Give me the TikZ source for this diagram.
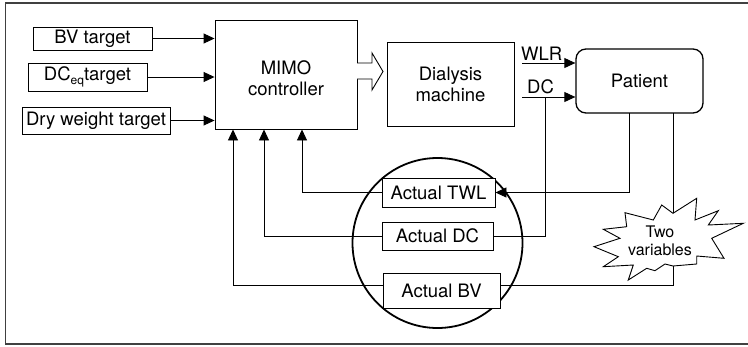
\documentclass[tikz,border=0pt]{standalone}
\usepackage{fontspec}
\setmainfont{TeX Gyre Heros}
\usetikzlibrary{arrows.meta,calc}
\begin{document}
\begin{tikzpicture}[x=1pt,y=-1pt,
  box/.style={draw,line width=0.9pt,inner sep=0pt,align=center,font=\fontsize{18.5}{21}\selectfont},
  conn/.style={line width=0.9pt},
  arr/.style={line width=0.9pt,-{Triangle[length=11pt,width=10pt]}},
  lbl/.style={inner sep=0pt,font=\fontsize{18.5}{21}\selectfont}]
\useasboundingbox (0,0) rectangle (748,346);
\draw[line width=1.8pt,black!75] (760,3) -- (5.5,3) -- (5.5,344) -- (760,344);
% input boxes
\node[box,minimum width=119pt,minimum height=23pt] (bv) at (92.5,38.5) {BV target};
\node[box,minimum width=119pt,minimum height=28pt] (dc) at (87.5,77) {DC\raisebox{-0.35ex}{\fontsize{12}{12}\selectfont eq}target};
\node[box,minimum width=148pt,minimum height=27pt] (dry) at (96,120.5) {Dry weight target};
\node[box,minimum width=142pt,minimum height=109pt] (mimo) at (286,74.5) {};
\node[lbl,align=center] at ([yshift=-4pt]mimo.center) {MIMO\\controller};
\node[box,minimum width=127pt,minimum height=84pt] (dial) at (450.5,84) {Dialysis\\machine};
\node[box,rounded corners=10pt,line width=1.3pt,minimum width=127pt,minimum height=64pt] (pat) at (639.5,81) {Patient};
% measurement circle
\node[draw,circle,line width=1.8pt,minimum size=170pt,inner sep=0pt] (circ) at (437.5,243) {};
\node[box,fill=white,minimum width=113pt,minimum height=29pt] (twl) at (438.5,192.5) {Actual TWL};
\node[box,fill=white,minimum width=111pt,minimum height=28pt] (adc) at (437.5,236) {Actual DC};
\node[box,fill=white,minimum width=117pt,minimum height=35pt] (abv) at (441.5,290.5) {Actual BV};
% inputs
\draw[arr] (bv.east) -- (bv.east -| mimo.west);
\draw[arr] (dc.east) -- (dc.east -| mimo.west);
\draw[arr] (dry.east) -- (dry.east -| mimo.west);
% hollow arrow
\draw[line width=0.9pt,fill=white] (357,63) -- (372,63) -- (372,53) -- (383,71.5) -- (372,90) -- (372,79) -- (357,79);
% WLR and DC
\coordinate (wlrs) at (522,63);
\coordinate (dcs) at (522,97);
\coordinate (dcj) at (545,97);
\draw[arr] (wlrs) -- (wlrs -| pat.west);
\draw[arr] (dcs) -- (dcs -| pat.west);
\node[lbl,anchor=south west] at (521,61) {WLR};
\node[lbl,anchor=south west] at (527,94) {DC};
% burst
\draw[line width=0.9pt,fill=white] (625,212.7) -- (653.3,220) -- (661.7,205) -- (673,213.3) -- (696.7,198.3) -- (695,220) -- (718.3,210.7) -- (708.3,225) -- (743.3,223.3) -- (711.7,238.3) -- (724,258.3) -- (696.7,256) -- (696.7,264) -- (673,266) -- (665,264) -- (655,270.7) -- (646.7,268.3) -- (628.3,280) -- (633.3,265) -- (603.3,266.7) -- (618.3,256.7) -- (594,246.7) -- (620,238.3) -- (603.3,229.3) -- (626.7,226.7) -- cycle;
\node[inner sep=0pt,align=center,font=\fontsize{16}{18}\selectfont] (burst) at (660,241) {Two\\variables};
\coordinate (p1) at (629,113);
\coordinate (p2) at (673,113);
\coordinate (bt) at (673,213.3);
\coordinate (bb) at (673,266);
% feedback
\draw[arr] (p1) |- (twl.east);
\draw[conn] (dcj) |- (adc.east);
\draw[conn] (p2) -- (bt);
\draw[conn] (bb) |- ([yshift=4.8pt]abv.east);
\draw[arr] (twl.west) -| ([xshift=16pt]mimo.south);
\draw[arr] (adc.west) -| ([xshift=-22pt]mimo.south);
\draw[arr] ([yshift=4.8pt]abv.west) -| ([xshift=-53pt]mimo.south);
\end{tikzpicture}
\end{document}
